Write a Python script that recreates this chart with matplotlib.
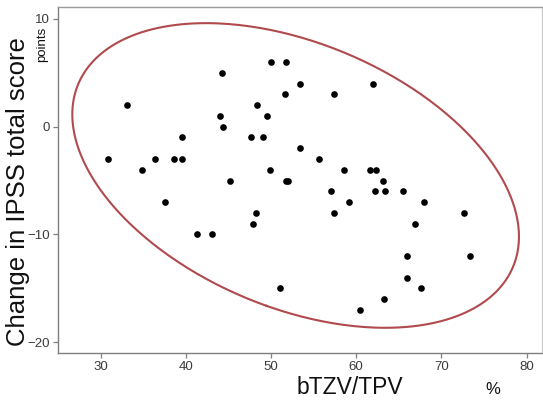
import numpy as np
import matplotlib
matplotlib.use("Agg")
import matplotlib.pyplot as plt

# bTZV/TPV (%) vs change in IPSS total score (points)
btzv_tpv = [50.0, 51.7, 44.2, 53.4, 62.0, 51.6, 57.4, 33.05, 48.3, 44.0,
            49.5, 44.4, 39.5, 47.6, 49.1, 53.4, 30.9, 36.4, 38.6, 39.5,
            55.6, 34.9, 49.9, 58.6, 61.65, 62.3, 45.2, 51.7, 52.0, 63.1,
            57.0, 62.2, 63.4, 65.5, 37.5, 59.2, 67.9, 48.2, 57.35, 72.6,
            47.9, 66.9, 41.3, 43.1, 66.0, 73.4, 66.0, 51.0, 67.6, 63.25,
            60.4]
ipss_change = [6, 6, 5, 4, 4, 3, 3, 2, 2, 1,
               1, 0, -1, -1, -1, -2, -3, -3, -3, -3,
               -3, -4, -4, -4, -4, -4, -5, -5, -5, -5,
               -6, -6, -6, -6, -7, -7, -7, -8, -8, -8,
               -9, -9, -10, -10, -12, -12, -14, -15, -15, -16,
               -17]

x_ticks = [30, 40, 50, 60, 70, 80]
y_ticks = [-20, -10, 0, 10]

ELLIPSE = "#b04a4e"
SPINE = "#7f7f7f"
TICKTXT = "#3a3a3a"

plt.rcParams["font.family"] = ["Liberation Sans", "DejaVu Sans"]


def density_ellipse(x, y, chi2=5.991, n=400):
    # 95% bivariate normal density ellipse from the sample covariance
    x = np.asarray(x, float)
    y = np.asarray(y, float)
    cov = np.cov(x, y)
    vals, vecs = np.linalg.eigh(cov)
    t = np.linspace(0, 2 * np.pi, n)
    circ = np.vstack([np.cos(t), np.sin(t)])
    pts = vecs @ (np.sqrt(vals * chi2)[:, None] * circ)
    return pts[0] + x.mean(), pts[1] + y.mean()


fig = plt.figure(figsize=(5.43, 4.0), dpi=100)
ax = fig.add_axes([0.107, 0.1175, 0.891, 0.865])

ex, ey = density_ellipse(btzv_tpv, ipss_change)
ax.plot(ex, ey, color=ELLIPSE, lw=1.5)
ax.plot(btzv_tpv, ipss_change, "o", color="black", ms=4.8, mew=0)

ax.set_xlim(25, 81.8)
ax.set_ylim(-21, 11.1)
ax.set_xticks(x_ticks)
ax.set_yticks(y_ticks)
ax.tick_params(colors=SPINE, labelcolor=TICKTXT, labelsize=9.5,
               length=3.6, width=0.9, pad=2, direction="out")
for side in ("left", "bottom"):
    ax.spines[side].set_color(SPINE)
    ax.spines[side].set_linewidth(1.0)
ax.spines["top"].set_color("#9a9a9a")
ax.spines["top"].set_linewidth(1.0)
ax.spines["right"].set_color("#cccccc")
ax.spines["right"].set_linewidth(0.9)

fig.text(0.033, 0.52, "Change in IPSS total score", rotation=90,
         ha="center", va="center", fontsize=18.5, color="#111111")
fig.text(0.078, 0.888, "points", rotation=90, ha="center", va="center",
         fontsize=9.5, color="#111111")
fig.text(0.645, 0.03, "bTZV/TPV", ha="center", va="center", fontsize=16.5,
         color="#111111")
fig.text(0.907, 0.025, "%", ha="center", va="center", fontsize=12,
         color="#111111")

fig.savefig("out.png", dpi=100)
